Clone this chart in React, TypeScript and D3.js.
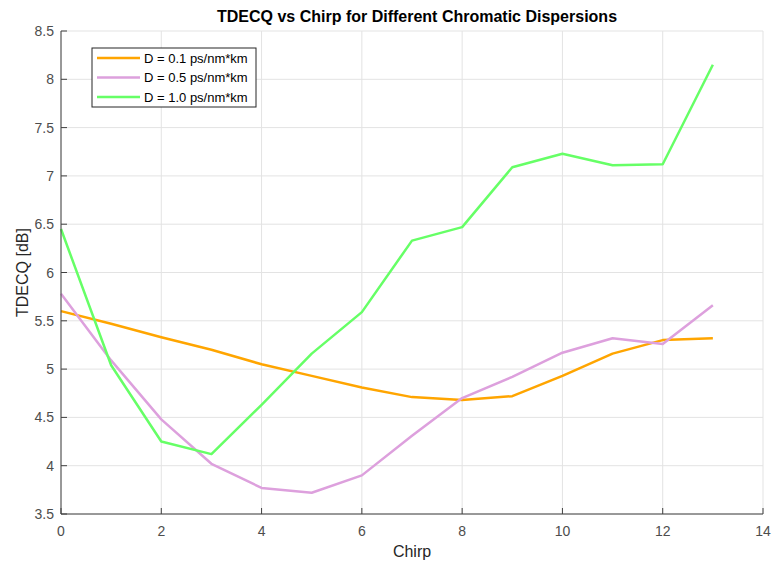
import React from "react";
import * as d3 from "d3";

const chirp = [0, 1, 2, 3, 4, 5, 6, 7, 8, 9, 10, 11, 12, 13];
const d01 = [5.6, 5.47, 5.33, 5.2, 5.05, 4.93, 4.81, 4.71, 4.68, 4.72, 4.93, 5.16, 5.3, 5.32];
const d05 = [5.78, 5.09, 4.48, 4.02, 3.77, 3.72, 3.9, 4.31, 4.7, 4.92, 5.17, 5.32, 5.26, 5.66];
const d10 = [6.45, 5.04, 4.25, 4.12, 4.63, 5.16, 5.59, 6.33, 6.47, 7.09, 7.23, 7.11, 7.12, 8.15];
const seriesNames = ["D = 0.1 ps/nm*km", "D = 0.5 ps/nm*km", "D = 1.0 ps/nm*km"];
const seriesColors = ["#FFA500", "#DDA0DD", "#66FF66"];
const xTicks = [0, 2, 4, 6, 8, 10, 12, 14];
const yTicks = [3.5, 4, 4.5, 5, 5.5, 6, 6.5, 7, 7.5, 8, 8.5];

export default function App() {
  const W = 774, H = 565;
  const left = 61, right = 763, top = 31, bottom = 514;
  const x = d3.scaleLinear().domain([0, 14]).range([left, right]);
  const y = d3.scaleLinear().domain([3.5, 8.5]).range([bottom, top]);
  const line = d3.line<number>().x((_, i) => x(chirp[i])).y((v) => y(v));
  const series = [d01, d05, d10];
  const font = "Arial, 'Liberation Sans', Helvetica, sans-serif";
  const tickColor = "#4d4d4d";
  const axisColor = "#404040";
  return (
    <svg width={W} height={H} style={{ position: "absolute", left: 0, top: 0, background: "#fff" }} fontFamily={font}>
      <rect x={0} y={0} width={W} height={H} fill="#fff" />
      {xTicks.map((t) => (
        <line key={"gx" + t} x1={x(t)} x2={x(t)} y1={top} y2={bottom} stroke="#e3e3e3" strokeWidth={1} />
      ))}
      {yTicks.map((t) => (
        <line key={"gy" + t} x1={left} x2={right} y1={y(t)} y2={y(t)} stroke="#e3e3e3" strokeWidth={1} />
      ))}
      {series.map((s, i) => (
        <path key={"s" + i} d={line(s) || ""} fill="none" stroke={seriesColors[i]} strokeWidth={2.5} strokeLinejoin="round" />
      ))}
      <line x1={left} x2={left} y1={top} y2={bottom} stroke={axisColor} strokeWidth={1} />
      <line x1={left} x2={right} y1={bottom} y2={bottom} stroke={axisColor} strokeWidth={1} />
      {xTicks.map((t) => (
        <g key={"tx" + t}>
          <line x1={x(t)} x2={x(t)} y1={bottom} y2={bottom - 6} stroke={axisColor} />
          <text x={x(t)} y={bottom + 22} textAnchor="middle" fontSize={14} fill={tickColor}>{t}</text>
        </g>
      ))}
      {yTicks.map((t) => (
        <g key={"ty" + t}>
          <line x1={left} x2={left + 6} y1={y(t)} y2={y(t)} stroke={axisColor} />
          <text x={left - 7} y={y(t) + 5} textAnchor="end" fontSize={14} fill={tickColor}>{t}</text>
        </g>
      ))}
      <text x={(left + right) / 2 + 5} y={22} textAnchor="middle" fontSize={16} fontWeight="bold" fill="#000">
        TDECQ vs Chirp for Different Chromatic Dispersions
      </text>
      <text x={(left + right) / 2} y={557} textAnchor="middle" fontSize={16} fill="#262626">Chirp</text>
      <text transform={`translate(28, ${(top + bottom) / 2}) rotate(-90)`} textAnchor="middle" fontSize={16} fill="#262626">TDECQ [dB]</text>
      <rect x={92} y={48} width={164} height={59} fill="#fff" stroke="#262626" strokeWidth={1} />
      {seriesNames.map((n, i) => (
        <g key={"l" + i}>
          <line x1={97} x2={140} y1={58 + i * 19.5} y2={58 + i * 19.5} stroke={seriesColors[i]} strokeWidth={2.5} />
          <text x={144} y={58 + i * 19.5 + 4.5} fontSize={13} fill="#000">{n}</text>
        </g>
      ))}
    </svg>
  );
}
